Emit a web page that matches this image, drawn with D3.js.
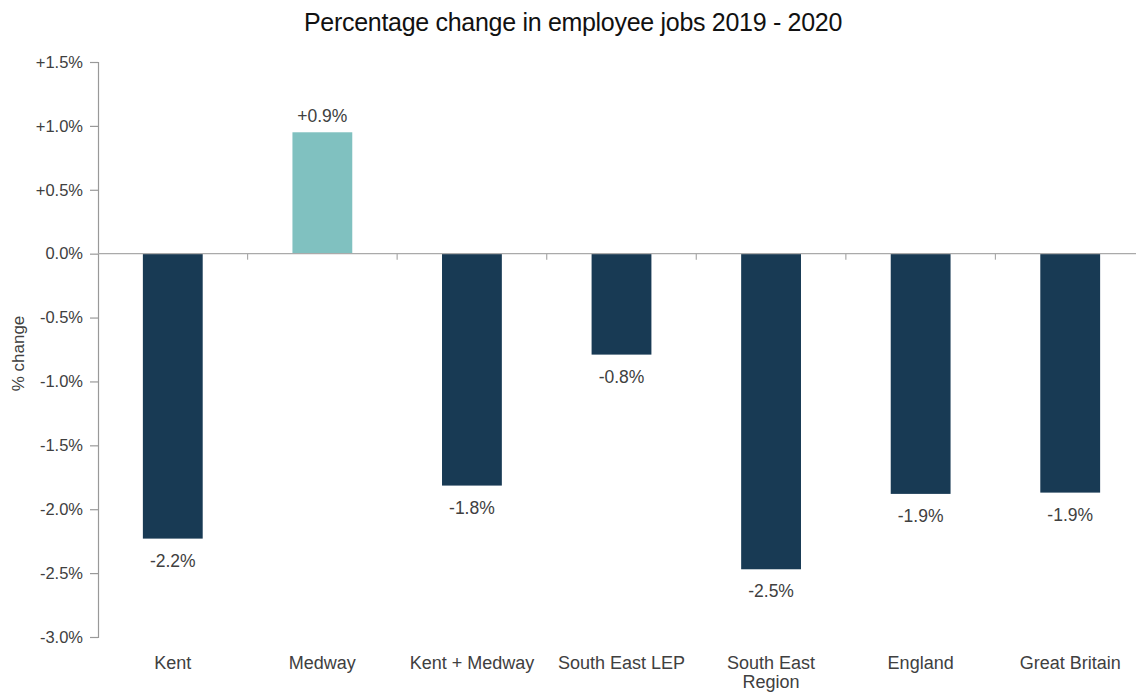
<!DOCTYPE html>
<html>
<head>
<meta charset="utf-8">
<script src="https://cdn.jsdelivr.net/npm/d3@7"></script>
<style>
    body { margin: 0; background: #fff; }
    text { font-family: "Liberation Sans", Arial, sans-serif; }
</style>
</head>
<body>
<script>
const categories = ["Kent", "Medway", "Kent + Medway", "South East LEP", "South East Region", "England", "Great Britain"];
const values = [-2.23, 0.95, -1.815, -0.79, -2.47, -1.88, -1.87];
const valueLabels = ["-2.2%", "+0.9%", "-1.8%", "-0.8%", "-2.5%", "-1.9%", "-1.9%"];
const yTicks = [1.5, 1.0, 0.5, 0.0, -0.5, -1.0, -1.5, -2.0, -2.5, -3.0];

const w = 1136, h = 693;
const margin = { top: 62, right: -9, bottom: 56, left: 98 };

const svg = d3.select("body").append("svg")
    .attr("width", w)
    .attr("height", h);

const x = d3.scaleBand()
    .domain(categories)
    .range([margin.left, w - margin.right])
    .paddingInner(0.6)
    .paddingOuter(0.3);

const y = d3.scaleLinear()
    .domain([-3.0, 1.5])
    .range([h - margin.bottom, margin.top]);

const fmt = d => d === 0 ? "0.0%" : (d > 0 ? "+" : "") + d.toFixed(1) + "%";

// title
svg.append("text")
    .attr("x", 573)
    .attr("y", 31)
    .attr("text-anchor", "middle")
    .attr("font-size", 25)
    .attr("letter-spacing", -0.3)
    .attr("fill", "#111")
    .text("Percentage change in employee jobs 2019 - 2020");

// y axis
const yAxis = svg.append("g")
    .attr("transform", "translate(" + margin.left + ",0)")
    .call(d3.axisLeft(y).tickValues(yTicks).tickFormat(fmt).tickSize(8).tickPadding(7));
yAxis.select(".domain").attr("stroke", "#999").attr("stroke-width", 1.2);
yAxis.selectAll(".tick line").attr("stroke", "#999").attr("stroke-width", 1.2);
yAxis.selectAll(".tick text").attr("font-size", 16.5).attr("fill", "#404040")
    .attr("font-family", "Liberation Sans, Arial, sans-serif");

svg.append("text")
    .attr("transform", "translate(24," + (y(-0.75) + 4) + ") rotate(-90)")
    .attr("text-anchor", "middle")
    .attr("font-size", 17)
    .attr("fill", "#404040")
    .text("% change");

// bars
svg.selectAll("rect.bar")
    .data(values)
    .enter().append("rect")
    .attr("class", "bar")
    .attr("x", (d, i) => x(categories[i]))
    .attr("width", x.bandwidth())
    .attr("y", d => y(Math.max(0, d)))
    .attr("height", d => Math.abs(y(d) - y(0)))
    .attr("fill", d => d > 0 ? "#80c1c0" : "#183a54");

// zero line with category ticks
svg.append("line")
    .attr("x1", margin.left).attr("x2", w)
    .attr("y1", y(0)).attr("y2", y(0))
    .attr("stroke", "#aaa").attr("stroke-width", 1.2);

const step = x.step();
svg.selectAll("line.ctick")
    .data(categories.slice(1))
    .enter().append("line")
    .attr("class", "ctick")
    .attr("x1", d => x(d) - step * 0.3)
    .attr("x2", d => x(d) - step * 0.3)
    .attr("y1", y(0))
    .attr("y2", y(0) + 6)
    .attr("stroke", "#aaa").attr("stroke-width", 1.2);

// value labels
svg.selectAll("text.val")
    .data(values)
    .enter().append("text")
    .attr("class", "val")
    .attr("x", (d, i) => x(categories[i]) + x.bandwidth() / 2)
    .attr("y", d => d > 0 ? y(d) - 10 : y(d) + 28)
    .attr("text-anchor", "middle")
    .attr("font-size", 17.5)
    .attr("fill", "#404040")
    .text((d, i) => valueLabels[i]);

// category labels, wrap long one
const catLabels = svg.selectAll("text.cat")
    .data(categories)
    .enter().append("text")
    .attr("class", "cat")
    .attr("x", d => x(d) + x.bandwidth() / 2)
    .attr("y", 669)
    .attr("text-anchor", "middle")
    .attr("font-size", 18)
    .attr("fill", "#404040");

catLabels.each(function (d) {
    const lines = d === "South East Region" ? ["South East", "Region"] : [d];
    const t = d3.select(this);
    lines.forEach((l, i) => {
        t.append("tspan")
            .attr("x", t.attr("x"))
            .attr("dy", i === 0 ? 0 : 19)
            .text(l);
    });
});
</script>
</body>
</html>
